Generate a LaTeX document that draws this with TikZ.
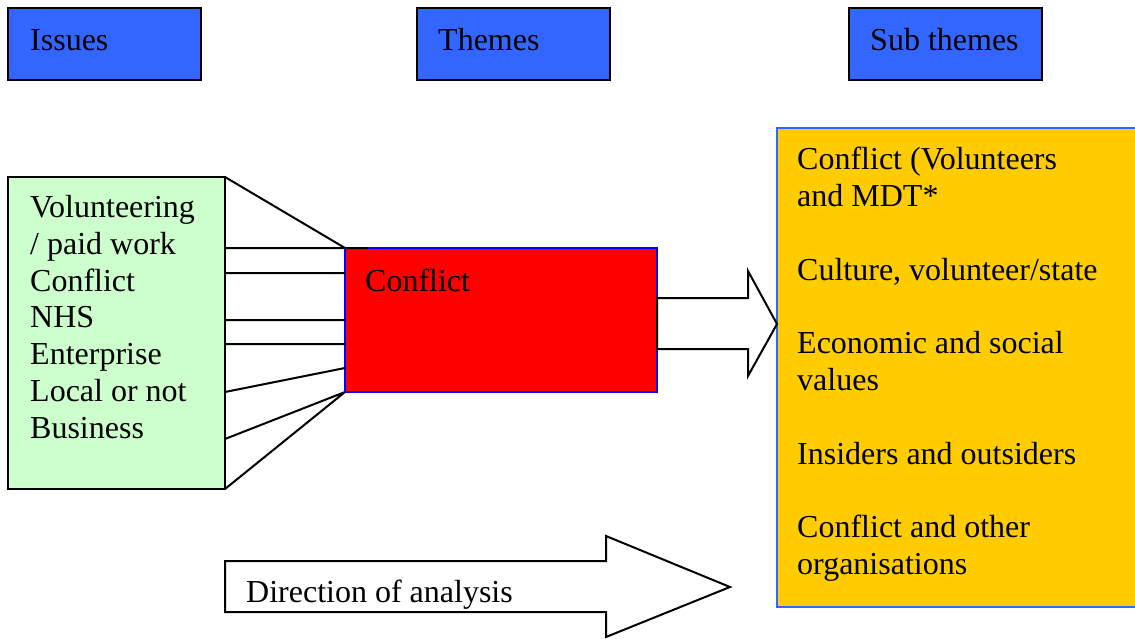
\documentclass[tikz,border=0pt]{standalone}
\usepackage{fontspec}
\setmainfont{Liberation Serif}
\usetikzlibrary{positioning}

\definecolor{hdrblue}{HTML}{3366FF}
\definecolor{issuegreen}{HTML}{CCFFCC}
\definecolor{themered}{HTML}{FF0000}
\definecolor{subyellow}{HTML}{FFCC00}
\definecolor{edgeblue}{HTML}{0000FF}

\tikzset{
  box/.style={draw, line width=2pt, inner sep=0pt, outer sep=0pt, anchor=north west},
  hdr/.style={box, fill=hdrblue, minimum width=193pt, minimum height=72pt},
  txt/.style={inner sep=0pt, anchor=north west, align=left, font=\fontsize{32}{36.8}\selectfont},
  fan/.style={line width=2pt},
  bigarrow/.style={draw, line width=2pt, fill=white, line join=miter}
}

\begin{document}
\begin{tikzpicture}[x=1pt, y=1pt]
\useasboundingbox (0,0) rectangle (1135,-639);

% headings
\node[hdr] (issues) at (8,-8) {};
\node[hdr] (themes) at (417,-8) {};
\node[hdr] (subthemes) at (849,-8) {};
\node[txt] (issueshead) at (30,-29) {Issues};
\node[txt] (themeshead) at (438,-28) {Themes};
\node[txt] (subhead) at (870,-28) {Sub themes};

% boxes
\node[box, fill=issuegreen, minimum width=217pt, minimum height=312pt] (green) at (8,-177) {};
\node[box, fill=themered, draw=edgeblue, minimum width=312pt, minimum height=144pt] (red) at (345,-248) {};
\node[box, fill=subyellow, draw=hdrblue, minimum width=370pt, minimum height=479pt] (subs) at (777,-128) {};

\node[txt] (issuelist) at (30,-195) {Volunteering\\/ paid work\\Conflict\\NHS\\Enterprise\\Local or not\\Business};
\node[txt] (conflict) at (365,-269) {Conflict};
\node[txt] (sublist) at (797,-147) {Conflict (Volunteers\\and MDT*\\[36.8pt]Culture, volunteer/state\\[36.8pt]Economic and social\\values\\[36.8pt]Insiders and outsiders\\[36.8pt]Conflict and other\\organisations};

% issues feeding the theme
\draw[fan] (green.north east) -- (red.north west)
  ([yshift=-71pt]green.north east) -- ([xshift=23pt]red.north west)
  ([yshift=-96pt]green.north east) -- ([yshift=-25pt]red.north west)
  ([yshift=-143pt]green.north east) -- ([yshift=-72pt]red.north west)
  ([yshift=-167pt]green.north east) -- ([yshift=-96pt]red.north west)
  ([yshift=97pt]green.south east) -- ([yshift=24pt]red.south west)
  ([yshift=50pt]green.south east) -- (red.south west)
  (green.south east) -- (red.south west);

% arrows
\draw[bigarrow] (657,-298) -- (748,-298) -- (748,-271) -- (777,-324)
  -- (748,-376) -- (748,-349) -- (657,-349) -- cycle;
\draw[bigarrow] (225,-561) -- (606,-561) -- (606,-536) -- (730,-587)
  -- (606,-637) -- (606,-612) -- (225,-612) -- cycle;
\node[txt] (direction) at (246,-580) {Direction of analysis};
\end{tikzpicture}
\end{document}
